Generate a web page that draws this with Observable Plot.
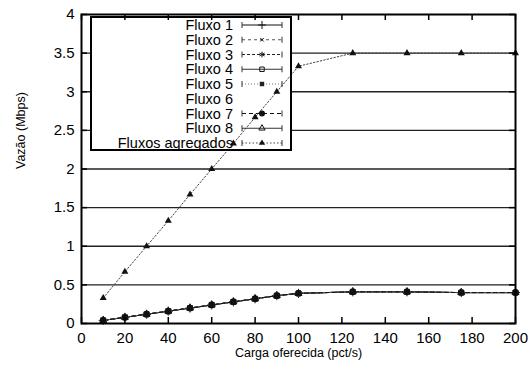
<!DOCTYPE html>
<html><head><meta charset="utf-8">
<script src="https://cdn.jsdelivr.net/npm/d3@7"></script>
<script src="https://cdn.jsdelivr.net/npm/@observablehq/plot@0.6"></script>
<style>
body{margin:0;background:#fff;}
#chart{position:relative;width:530px;height:374px;overflow:hidden;}
</style></head><body><div id="chart"></div>
<script>
// ---- data ----
const cargas = [10, 20, 30, 40, 50, 60, 70, 80, 90, 100, 125, 150, 175, 200];
const porFluxo = [0.04, 0.08, 0.12, 0.16, 0.20, 0.24, 0.28, 0.32, 0.36, 0.39, 0.41, 0.41, 0.40, 0.40];
const agregado = [0.33, 0.67, 1.0, 1.33, 1.67, 2.0, 2.33, 2.67, 3.0, 3.33, 3.5, 3.5, 3.5, 3.5];
const series = ["Fluxo 1", "Fluxo 2", "Fluxo 3", "Fluxo 4", "Fluxo 5", "Fluxo 6", "Fluxo 7", "Fluxo 8", "Fluxos agregados"];
const xTicks = [0, 20, 40, 60, 80, 100, 120, 140, 160, 180, 200];
const yTicks = [0, 0.5, 1, 1.5, 2, 2.5, 3, 3.5, 4];
const gridTicks = [0.5, 1, 1.5, 2, 2.5, 3, 3.5];
const xLabel = "Carga oferecida (pct/s)";
const yLabel = "Vazão (Mbps)";

// ---- styles (gnuplot-like) ----
const styles = {
  "Fluxo 1": {dash: null, stroke: "#111", symbol: "plus", fill: "none", r: 3},
  "Fluxo 2": {dash: "3,3", stroke: "#555", symbol: "times", fill: "none", r: 2},
  "Fluxo 3": {dash: "3,2", stroke: "#222", symbol: "asterisk", fill: "none", r: 3},
  "Fluxo 4": {dash: null, stroke: "#333", symbol: "square", fill: "none", r: 2.8},
  "Fluxo 5": {dash: "1,2", stroke: "#777", symbol: "square", fill: "#222", r: 2.8},
  "Fluxo 6": {dash: null, stroke: "none", symbol: "circle", fill: "none", r: 3},
  "Fluxo 7": {dash: "4,3", stroke: "#111", symbol: "circle", fill: "#111", r: 3.4},
  "Fluxo 8": {dash: null, stroke: "#333", symbol: "triangle", fill: "none", r: 2.6},
  "Fluxos agregados": {dash: "1.5,2", stroke: "#444", symbol: "triangle", fill: "#111", r: 2.6}
};

const rows = [];
series.forEach((s) => {
  const vals = s === "Fluxos agregados" ? agregado : porFluxo;
  cargas.forEach((c, j) => rows.push({serie: s, carga: c, vazao: vals[j]}));
});

const W = 530, H = 374, mL = 81, mR = 15, mT = 14, mB = 51;
const fw = W - mL - mR, fh = H - mT - mB, tk = 6;
const font = "'Liberation Sans', Arial, Helvetica, sans-serif";
const marks = [
  Plot.gridY(gridTicks, {stroke: "#222", strokeOpacity: 1, strokeWidth: 1.3})
];
const order = ["Fluxo 1", "Fluxo 2", "Fluxo 3", "Fluxo 4", "Fluxo 6", "Fluxo 8", "Fluxo 5", "Fluxo 7", "Fluxos agregados"];
for (const s of order) {
  const st = styles[s];
  const d = rows.filter(r => r.serie === s);
  marks.push(Plot.line(d, {x: "carga", y: "vazao", stroke: st.stroke, strokeWidth: 1, strokeDasharray: st.dash}));
}
for (const s of order) {
  const st = styles[s];
  const d = rows.filter(r => r.serie === s);
  marks.push(Plot.dot(d, {x: "carga", y: "vazao", symbol: () => st.symbol, r: st.r,
    fill: st.fill, stroke: st.fill === "none" ? (st.stroke === "none" ? "#ccc" : "#111") : "none", strokeWidth: 1}));
}
marks.push(
  // inward tick marks (bottom, top, left, right)
  Plot.tickX(xTicks, {x: d => d, insetTop: fh - tk, stroke: "#000", strokeWidth: 1.5}),
  Plot.tickX(xTicks, {x: d => d, insetBottom: fh - tk, stroke: "#000", strokeWidth: 1.5}),
  Plot.tickY(yTicks, {y: d => d, insetRight: fw - tk, stroke: "#000", strokeWidth: 1.5}),
  Plot.tickY(yTicks, {y: d => d, insetLeft: fw - tk, stroke: "#000", strokeWidth: 1.5}),
  Plot.axisX(xTicks, {anchor: "bottom", tickSize: 0, tickPadding: 9, fontSize: 15, label: null}),
  Plot.axisY(yTicks, {anchor: "left", tickSize: 0, tickPadding: 7, fontSize: 15, label: null, tickFormat: d => String(d)}),
  Plot.frame({stroke: "#000", strokeWidth: 2}),
  Plot.text([xLabel], {frameAnchor: "bottom", dy: 33, fontSize: 12.5, text: d => d}),
  Plot.text([yLabel], {frameAnchor: "left", dx: -61, rotate: -90, fontSize: 12.5, text: d => d})
);

const chart = Plot.plot({
  width: W, height: H,
  marginLeft: mL, marginRight: mR, marginTop: mT, marginBottom: mB,
  style: {fontFamily: font, fontSize: "15px", color: "#000", background: "#fff"},
  x: {domain: [0, 200], axis: null},
  y: {domain: [0, 4], axis: null},
  marks
});
document.getElementById("chart").appendChild(chart);

// ---- legend (gnuplot key) ----
const svg = d3.select(chart);
const box = {x: 91, y: 17, w: 200, h: 133};
svg.insert("rect", 'g[aria-label="line"]')
  .attr("x", box.x).attr("y", box.y).attr("width", box.w).attr("height", box.h)
  .attr("fill", "#fff").attr("stroke", "none");
const lg = svg.append("g").attr("font-family", font).attr("font-size", 14.5);
lg.append("rect").attr("x", box.x).attr("y", box.y).attr("width", box.w).attr("height", box.h)
  .attr("fill", "none").attr("stroke", "#000").attr("stroke-width", 2);
const symMap = {plus: d3.symbolPlus, times: d3.symbolTimes, asterisk: d3.symbolAsterisk, square: d3.symbolSquare,
  circle: d3.symbolCircle, triangle: d3.symbolTriangle};
series.forEach((s, i) => {
  const st = styles[s];
  const cy = 25 + i * 14.75;
  lg.append("text").attr("x", 233).attr("y", cy).attr("dy", "0.36em").attr("text-anchor", "end").attr("fill", "#000").text(s);
  if (st.stroke === "none") return;
  const x1 = 242, x2 = 282;
  lg.append("line").attr("x1", x1).attr("x2", x2).attr("y1", cy).attr("y2", cy)
    .attr("stroke", st.stroke).attr("stroke-width", 1).attr("stroke-dasharray", st.dash);
  for (const xx of [x1, x2]) lg.append("line").attr("x1", xx).attr("x2", xx).attr("y1", cy - 3).attr("y2", cy + 3)
    .attr("stroke", "#333").attr("stroke-width", 1);
  const area = Math.PI * st.r * st.r * 0.8;
  lg.append("path").attr("d", d3.symbol(symMap[st.symbol], area)())
    .attr("transform", `translate(262,${cy})`)
    .attr("fill", st.fill).attr("stroke", st.fill === "none" ? "#111" : "none").attr("stroke-width", 1);
});
</script>
</body></html>
